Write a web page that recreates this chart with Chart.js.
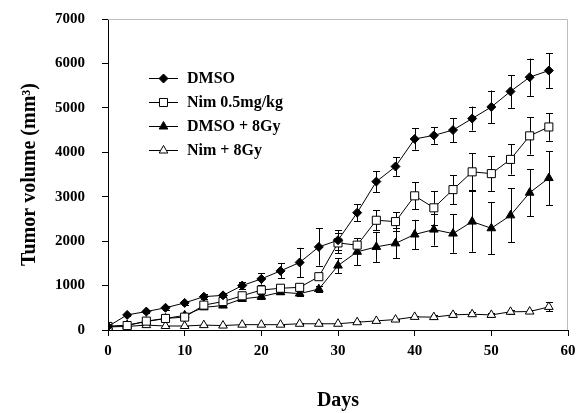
<!DOCTYPE html>
<html>
<head>
<meta charset="utf-8">
<script src="https://cdn.jsdelivr.net/npm/chart.js@4.4.0/dist/chart.umd.min.js"></script>
<style>
  html, body { margin: 0; padding: 0; background: #fff; }
  #wrap { width: 576px; height: 413px; }
</style>
</head>
<body>
<div id="wrap"><canvas id="myChart" width="576" height="413"></canvas></div>
<script>
// values (mean and error per day)
var days = [0, 2.5, 5, 7.5, 10, 12.5, 15, 17.5, 20, 22.5, 25, 27.5, 30, 32.5, 35, 37.5, 40, 42.5, 45, 47.5, 50, 52.5, 55, 57.5];

var dmso      = [80, 340, 415, 500, 610, 750, 780, 1000, 1150, 1330, 1520, 1870, 2020, 2640, 3340, 3680, 4300, 4380, 4500, 4760, 5020, 5370, 5690, 5840];
var dmsoErr   = [0, 30, 40, 40, 50, 60, 60, 80, 130, 170, 330, 420, 230, 190, 235, 210, 240, 190, 270, 270, 370, 370, 420, 390];

var nim       = [80, 100, 200, 260, 290, 560, 640, 770, 900, 940, 960, 1200, 1960, 1910, 2470, 2440, 3020, 2750, 3160, 3560, 3520, 3840, 4370, 4570];
var nimErr    = [0, 20, 40, 40, 60, 60, 60, 60, 60, 50, 50, 60, 230, 160, 230, 210, 300, 380, 330, 420, 390, 340, 420, 310];

var dmsoGy    = [80, 110, 190, 260, 330, 510, 550, 700, 750, 850, 820, 920, 1450, 1760, 1870, 1950, 2150, 2260, 2170, 2440, 2290, 2580, 3090, 3420];
var dmsoGyErr = [0, 20, 30, 30, 40, 40, 40, 40, 50, 50, 50, 60, 170, 300, 340, 340, 330, 360, 430, 680, 590, 610, 530, 610];

var nimGy     = [70, 80, 110, 90, 90, 110, 100, 120, 120, 120, 140, 140, 140, 175, 205, 235, 295, 290, 340, 355, 340, 410, 415, 520];
var nimGyErr  = [0, 10, 10, 10, 10, 10, 10, 10, 10, 10, 10, 10, 20, 20, 20, 20, 30, 40, 40, 50, 40, 40, 40, 100];

var labels = ['DMSO', 'Nim 0.5mg/kg', 'DMSO + 8Gy', 'Nim + 8Gy'];
var xTicks = [0, 10, 20, 30, 40, 50, 60];
var yTicks = [0, 1000, 2000, 3000, 4000, 5000, 6000, 7000];

var FONT = "'Liberation Serif', 'Times New Roman', serif";

function pts(vals) {
    return days.map(function(d, i) { return { x: d, y: vals[i] }; });
}

function makeSet(label, vals, errs, style, fill, radius) {
    return {
        label: label,
        data: pts(vals),
        errors: errs,
        borderColor: '#000',
        borderWidth: 1,
        pointStyle: style,
        pointRadius: radius,
        pointHoverRadius: radius,
        pointBackgroundColor: fill,
        pointBorderColor: '#000',
        pointBorderWidth: 1,
        fill: false,
        tension: 0
    };
}

// plot frame (light gray top/right) and error bars behind the markers
var errorBars = {
    id: 'errorBars',
    beforeDatasetsDraw: function(chart) {
        var ctx = chart.ctx;
        var a = chart.chartArea;
        var xs = chart.scales.x, ys = chart.scales.y;
        ctx.save();
        ctx.strokeStyle = '#bdbdbd';
        ctx.lineWidth = 1;
        ctx.beginPath();
        ctx.moveTo(a.left, a.top + 0.5);
        ctx.lineTo(a.right - 0.5, a.top + 0.5);
        ctx.lineTo(a.right - 0.5, a.bottom);
        ctx.stroke();

        ctx.strokeStyle = '#000';
        chart.data.datasets.forEach(function(ds) {
            ds.data.forEach(function(p, i) {
                var e = ds.errors[i];
                if (!e) return;
                var x = Math.round(xs.getPixelForValue(p.x)) + 0.5;
                var yt = ys.getPixelForValue(p.y + e);
                var yb = ys.getPixelForValue(Math.max(0, p.y - e));
                ctx.beginPath();
                ctx.moveTo(x, yt); ctx.lineTo(x, yb);
                ctx.moveTo(x - 3.5, Math.round(yt) + 0.5); ctx.lineTo(x + 3.5, Math.round(yt) + 0.5);
                ctx.moveTo(x - 3.5, Math.round(yb) + 0.5); ctx.lineTo(x + 3.5, Math.round(yb) + 0.5);
                ctx.stroke();
            });
        });
        ctx.restore();
    }
};

// legend with a line sample through the marker, inside the plot
var lineLegend = {
    id: 'lineLegend',
    afterDraw: function(chart) {
        var ctx = chart.ctx;
        ctx.save();
        ctx.font = 'bold 16px ' + FONT;
        ctx.textBaseline = 'middle';
        chart.data.datasets.forEach(function(ds, i) {
            var y = 78 + i * 24;
            ctx.strokeStyle = '#000';
            ctx.lineWidth = 1;
            ctx.beginPath();
            ctx.moveTo(149, y + 0.5);
            ctx.lineTo(178, y + 0.5);
            ctx.stroke();
            ctx.fillStyle = ds.pointBackgroundColor;
            Chart.helpers.drawPoint(ctx, {
                pointStyle: ds.pointStyle,
                radius: ds.pointRadius,
                rotation: 0,
                borderWidth: 1
            }, 163.5, y + 0.5);
            ctx.fillStyle = '#000';
            ctx.fillText(ds.label, 187, y + 1);
        });
        ctx.restore();
    }
};

const ctx = document.getElementById('myChart');

new Chart(ctx, {
    type: 'line',
    data: {
        datasets: [
            makeSet(labels[0], dmso, dmsoErr, 'rectRot', '#000', 4.5),
            makeSet(labels[1], nim, nimErr, 'rect', '#fff', 5.7),
            makeSet(labels[2], dmsoGy, dmsoGyErr, 'triangle', '#000', 5),
            makeSet(labels[3], nimGy, nimGyErr, 'triangle', '#fff', 5)
        ]
    },
    options: {
        responsive: false,
        animation: false,
        layout: { padding: { left: 18, top: 19, right: 0, bottom: 0 } },
        plugins: {
            legend: { display: false },
            tooltip: { enabled: false }
        },
        scales: {
            x: {
                type: 'linear',
                min: 0,
                max: 60,
                afterBuildTicks: function(axis) {
                    axis.ticks = xTicks.map(function(v) { return { value: v }; });
                },
                afterFit: function(axis) { axis.paddingRight = 8; },
                grid: { drawOnChartArea: false, color: '#000', tickLength: 6 },
                border: { color: '#000', width: 1 },
                ticks: {
                    color: '#000',
                    padding: 6,
                    maxRotation: 0,
                    callback: function(v) { return String(v); },
                    font: { family: FONT, size: 15, weight: 'bold' }
                },
                title: {
                    display: true,
                    text: 'Days',
                    color: '#000',
                    padding: { top: 23, bottom: 0 },
                    font: { family: FONT, size: 20, weight: 'bold' }
                }
            },
            y: {
                min: 0,
                max: 7000,
                afterBuildTicks: function(axis) {
                    axis.ticks = yTicks.map(function(v) { return { value: v }; });
                },
                afterFit: function(axis) { axis.width = 90; axis.paddingTop = 0; },
                grid: { drawOnChartArea: false, color: '#000', tickLength: 6 },
                border: { color: '#000', width: 1 },
                ticks: {
                    color: '#000',
                    padding: 17,
                    callback: function(v) { return String(v); },
                    font: { family: FONT, size: 15, weight: 'bold' }
                },
                title: {
                    display: true,
                    text: 'Tumor volume (mm³)',
                    color: '#000',
                    padding: { top: 0, bottom: 13 },
                    font: { family: FONT, size: 20, weight: 'bold' }
                }
            }
        }
    },
    plugins: [errorBars, lineLegend]
});
</script>
</body>
</html>
